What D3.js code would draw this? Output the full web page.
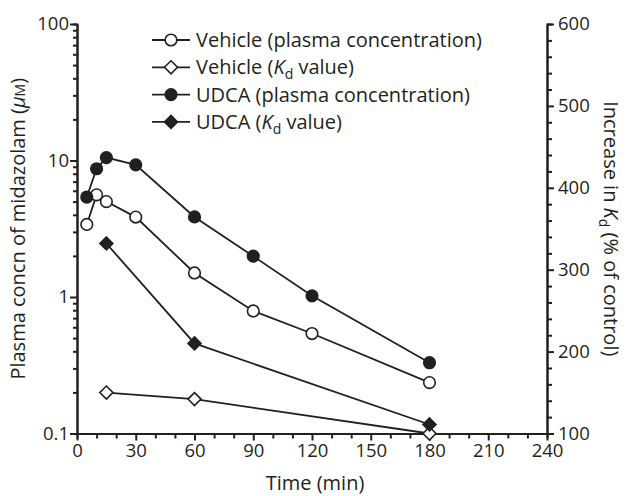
<!DOCTYPE html>
<html lang="en">
<head>
<meta charset="utf-8">
<title>Midazolam plasma concentration and Kd</title>
<style>
  body { margin: 0; background: #fff; }
  svg text { font-family: "Open Sans", "Noto Sans", sans-serif; fill: #231f20; }
</style>
</head>
<body>
<div id="chart"></div>
<script src="https://cdn.jsdelivr.net/npm/d3@7"></script>
<script>
// time points (min)
var plasmaTimes = [5, 10, 15, 30, 60, 90, 120, 180];
var kdTimes = [15, 60, 180];

// plasma concn of midazolam (uM), left log axis
var vehiclePlasma = [3.4, 5.6, 5.0, 3.85, 1.5, 0.79, 0.54, 0.236];
var udcaPlasma = [5.4, 8.7, 10.5, 9.3, 3.86, 1.99, 1.02, 0.33];

// increase in Kd (% of control), right axis
var vehicleKd = [150, 142, 100];
var udcaKd = [332, 210, 111];

var xTicks = [0, 30, 60, 90, 120, 150, 180, 210, 240];
var leftTicks = [0.1, 1, 10, 100];
var rightTicks = [100, 200, 300, 400, 500, 600];

var legendNames = ["Vehicle (plasma concentration)", "Vehicle (Kd value)",
                   "UDCA (plasma concentration)", "UDCA (Kd value)"];

var width = 630, height = 496;
var plotL = 77, plotR = 547, plotT = 24, plotB = 433.5;
var ink = "#231f20";

var svg = d3.select("#chart").append("svg")
    .attr("width", width)
    .attr("height", height);

var x = d3.scaleLinear().domain([0, 240]).range([plotL, plotR]);
var yL = d3.scaleLog().domain([0.1, 100]).range([plotB, plotT]);
var yR = d3.scaleLinear().domain([100, 600]).range([plotB, plotT]);

// minor ticks
var minorLog = [];
[0.1, 1, 10].forEach(function(d){
    for (var k = 2; k <= 9; k++) minorLog.push(d*k);
});
var minorX = d3.range(0, 241, 10).filter(function(d){ return d % 30 != 0; });
var minorR = d3.range(100, 601, 20).filter(function(d){ return d % 100 != 0; });

function styleAxis(g){
    g.select(".domain").attr("stroke", ink).attr("stroke-width", 2);
    g.selectAll(".tick line").attr("stroke", ink).attr("stroke-width", 2);
    g.selectAll(".tick text").attr("font-size", 18.5).attr("fill", ink)
        .style("font-family", "'Open Sans', sans-serif");
}

// x axis
svg.append("g").attr("transform", "translate(0," + plotB + ")")
    .call(d3.axisBottom(x).tickValues(minorX).tickSize(5).tickFormat(""))
    .call(styleAxis);
svg.append("g").attr("transform", "translate(0," + plotB + ")")
    .call(d3.axisBottom(x).tickValues(xTicks).tickSize(7).tickPadding(3).tickSizeOuter(0).tickFormat(d3.format("d")))
    .call(styleAxis);

// left axis
svg.append("g").attr("transform", "translate(" + plotL + ",0)")
    .call(d3.axisLeft(yL).tickValues(minorLog).tickSize(4).tickFormat(""))
    .call(styleAxis);
svg.append("g").attr("transform", "translate(" + plotL + ",0)")
    .call(d3.axisLeft(yL).tickValues(leftTicks).tickSize(7).tickPadding(1).tickSizeOuter(0)
        .tickFormat(function(d){ return String(d); }))
    .call(styleAxis);

// right axis
svg.append("g").attr("transform", "translate(" + plotR + ",0)")
    .call(d3.axisRight(yR).tickValues(minorR).tickSize(5).tickFormat(""))
    .call(styleAxis);
svg.append("g").attr("transform", "translate(" + plotR + ",0)")
    .call(d3.axisRight(yR).tickValues(rightTicks).tickSize(7).tickPadding(4).tickSizeOuter(0))
    .call(styleAxis);

// axis titles
svg.append("text")
    .attr("x", (plotL + plotR) / 2 + 3).attr("y", 490)
    .attr("text-anchor", "middle").attr("font-size", 20)
    .text("Time (min)");

var lt = svg.append("text")
    .attr("transform", "translate(25," + ((plotT + plotB) / 2) + ") rotate(-90)")
    .attr("text-anchor", "middle").attr("font-size", 20);
lt.append("tspan").text("Plasma concn of midazolam (");
lt.append("tspan").attr("font-style", "italic").text("\u03bc");
lt.append("tspan").attr("font-size", 14).text("M");
lt.append("tspan").text(")");

var rt = svg.append("text")
    .attr("transform", "translate(604," + ((plotT + plotB) / 2) + ") rotate(90)")
    .attr("text-anchor", "middle").attr("font-size", 20);
rt.append("tspan").text("Increase in ");
rt.append("tspan").attr("font-style", "italic").text("K");
rt.append("tspan").attr("font-size", 14).attr("dy", 5).text("d");
rt.append("tspan").attr("dy", -5).text(" (% of control)");

// series
var series = [
    {times: plasmaTimes, values: vehiclePlasma, y: yL, shape: "circle", fill: "#fff"},
    {times: kdTimes, values: vehicleKd, y: yR, shape: "diamond", fill: "#fff"},
    {times: plasmaTimes, values: udcaPlasma, y: yL, shape: "circle", fill: ink},
    {times: kdTimes, values: udcaKd, y: yR, shape: "diamond", fill: ink}
];

function drawMarker(g, s, cx, cy){
    if (s.shape == "circle") {
        g.append("circle").attr("cx", cx).attr("cy", cy).attr("r", 5.8)
            .attr("fill", s.fill).attr("stroke", ink).attr("stroke-width", 1.6);
    } else {
        var r = 6.5;
        g.append("path")
            .attr("d", "M" + cx + "," + (cy - r) + "L" + (cx + r) + "," + cy + "L" + cx + "," + (cy + r) + "L" + (cx - r) + "," + cy + "Z")
            .attr("fill", s.fill).attr("stroke", ink).attr("stroke-width", 1.6);
    }
}

series.forEach(function(s){
    var pts = s.times.map(function(t, i){ return [x(t), s.y(s.values[i])]; });
    svg.append("path")
        .attr("d", d3.line()(pts))
        .attr("fill", "none").attr("stroke", ink).attr("stroke-width", 1.8);
});
series.forEach(function(s){
    var g = svg.append("g");
    s.times.forEach(function(t, i){
        drawMarker(g, s, x(t), s.y(s.values[i]));
    });
});

// legend
var legend = svg.append("g");
series.forEach(function(s, i){
    var ly = 40 + i * 27.3;
    legend.append("line").attr("x1", 152).attr("x2", 190).attr("y1", ly).attr("y2", ly)
        .attr("stroke", ink).attr("stroke-width", 1.8);
    drawMarker(legend, s, 171, ly);
    var t = legend.append("text").attr("x", 196).attr("y", ly + 7).attr("font-size", 20);
    var name = legendNames[i];
    if (name.indexOf("Kd") >= 0) {
        var parts = name.split("Kd");
        t.append("tspan").text(parts[0]);
        t.append("tspan").attr("font-style", "italic").text("K");
        t.append("tspan").attr("font-size", 14).attr("dy", 5).text("d");
        t.append("tspan").attr("dy", -5).text(parts[1]);
    } else {
        t.text(name);
    }
});
</script>
</body>
</html>
